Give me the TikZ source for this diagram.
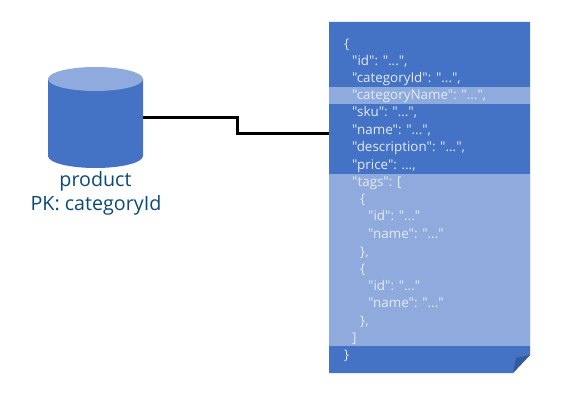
\documentclass[tikz,border=0pt]{standalone}
\usepackage{fontspec}
\setmainfont{Open Sans}[Ligatures=TeXOff]
\definecolor{docblue}{HTML}{4472C4}
\definecolor{lightblue}{HTML}{8FAADC}
\definecolor{foldblue}{HTML}{345A9E}
\definecolor{labelblue}{HTML}{0B4A78}
\definecolor{codetext}{HTML}{E4EAF6}
\tikzset{
  codeline/.style={anchor=base west,inner sep=0pt,text=codetext,font=\fontsize{13.4}{15}\selectfont},
  dblabel/.style={anchor=base,inner sep=0pt,text=labelblue,font=\fontsize{19.7}{23}\selectfont},
  anchorbox/.style={inner sep=0pt,outer sep=0pt,draw=none,fill=none},
  link/.style={draw=black,line width=3pt,line join=miter}
}
\begin{document}
\begin{tikzpicture}[x=1pt,y=-1pt]
\useasboundingbox (0,0) rectangle (564,403);
% document
\fill[docblue] (329,22) -- (530,22) -- (530,355) -- (513,373) -- (329,373) -- cycle;
\fill[lightblue] (329,87) rectangle (530,104);
\fill[lightblue] (329,174) rectangle (530,346);
\fill[foldblue] (530,355) -- (516,358) -- (513,373) -- cycle;
\node[anchorbox,minimum width=201pt,minimum height=351pt] (doc) at (429.5,197.5) {};
% cylinder
\fill[docblue] (48,79) -- (48,156) arc[start angle=180,end angle=360,x radius=47.5,y radius=-12] -- (143,79) -- cycle;
\fill[lightblue] (95.5,79) ellipse[x radius=47.5,y radius=12];
\node[anchorbox,minimum width=95pt,minimum height=101pt] (db) at (95.5,117.5) {};
\node[dblabel] (dbname) at (95.5,187) {product};
\node[dblabel] (dbkey) at (96,211) {PK: categoryId};
% connector
\coordinate (docport) at (doc.west |- 0,134);
\draw[link] (db.east) -- (237,117.5) -- (237,134) -- (docport);
% code
\node[codeline] (l1) at (344,49) {\{};
\node[codeline] (l2) at (352,65.5) {"id": "...",};
\node[codeline] (l3) at (352,83) {"categoryId": "...",};
\node[codeline] (l4) at (352,100) {"categoryName": "...",};
\node[codeline] (l5) at (352,117) {"sku": "...",};
\node[codeline] (l6) at (352,134.5) {"name": "...",};
\node[codeline] (l7) at (352,152) {"description": "...",};
\node[codeline] (l8) at (352,169.5) {"price": ...,};
\node[codeline] (l9) at (352,186.5) {"tags": [};
\node[codeline] (l10) at (360,204) {\{};
\node[codeline] (l11) at (368,221) {"id": "..."};
\node[codeline] (l12) at (368,238.5) {"name": "..."};
\node[codeline] (l13) at (360,256) {\},};
\node[codeline] (l14) at (360,273) {\{};
\node[codeline] (l15) at (368,290.5) {"id": "..."};
\node[codeline] (l16) at (368,307.5) {"name": "..."};
\node[codeline] (l17) at (360,325) {\},};
\node[codeline] (l18) at (352,342) {]};
\node[codeline] (l19) at (344,359.5) {\}};
\end{tikzpicture}
\end{document}
